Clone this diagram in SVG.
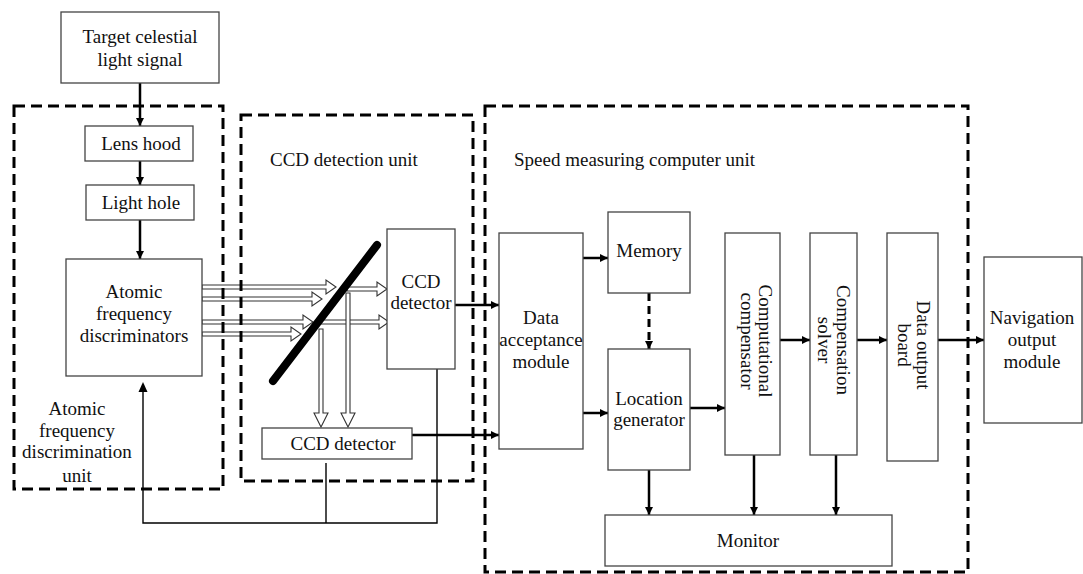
<svg xmlns="http://www.w3.org/2000/svg" width="1083" height="574" viewBox="0 0 1083 574">
  <defs>
    <marker id="ah" viewBox="0 0 10 10" refX="10" refY="5" markerWidth="8" markerHeight="8" markerUnits="userSpaceOnUse" orient="auto">
      <path d="M0,0 L10,5 L0,10 z" fill="#000"/>
    </marker>
    <style>
      .box { fill: #fff; stroke: #444; stroke-width: 1.3; }
      .unit { fill: none; stroke: #000; stroke-width: 3; stroke-dasharray: 11 6; }
      .t { font-family: "Liberation Serif", "Times New Roman", serif; font-size: 19px; fill: #111; }
      .c { text-anchor: middle; }
      .flow { fill: none; stroke: #000; stroke-width: 2.5; marker-end: url(#ah); }
      .thin { fill: none; stroke: #000; stroke-width: 1.4; }
      .dash { fill: none; stroke: #000; stroke-width: 3; stroke-dasharray: 8 5; marker-end: url(#ah); }
      .hollow { fill: #fff; stroke: #333; stroke-width: 1.1; stroke-linejoin: miter; }
    </style>
  </defs>

  <!-- optical beam paths (hollow arrows) -->
  <g id="beams">
    <polygon class="hollow" points="202,285 326,285 326,280 336,287 326,294 326,289 202,289"/>
    <polygon class="hollow" points="202,297 312,297 312,292 322,299 312,306 312,301 202,301"/>
    <polygon class="hollow" points="202,320 303,320 303,315 313,322 303,329 303,324 202,324"/>
    <polygon class="hollow" points="202,332 291,332 291,327 301,334 291,341 291,336 202,336"/>
    <polygon class="hollow" points="347,287 377,287 377,282 387,289 377,296 377,291 347,291"/>
    <polygon class="hollow" points="320,320 379,320 379,315 389,322 379,329 379,324 320,324"/>
    <polygon class="hollow" points="319,329 323,329 323,413 328,413 321,427 314,413 319,413"/>
    <polygon class="hollow" points="346,293 350,293 350,413 355,413 348,427 341,413 346,413"/>
  </g>

  <!-- beam splitter -->
  <g id="splitter">
    <line x1="377" y1="245" x2="273" y2="381" stroke="#000" stroke-width="8" stroke-linecap="round"/>
  </g>

  <!-- unit frames -->
  <g id="unit-afd">
    <rect class="unit" x="14" y="106" width="209" height="383"/>
    <text class="t c" x="77" y="415">Atomic</text>
    <text class="t c" x="77" y="437">frequency</text>
    <text class="t c" x="77" y="458">discrimination</text>
    <text class="t c" x="77" y="482">unit</text>
  </g>
  <g id="unit-ccd">
    <rect class="unit" x="241" y="115" width="232" height="366"/>
    <text class="t" x="270" y="166">CCD detection unit</text>
  </g>
  <g id="unit-speed">
    <rect class="unit" x="485" y="106" width="483" height="466"/>
    <text class="t" x="514" y="166">Speed measuring computer unit</text>
  </g>

  <!-- connectors -->
  <g id="connectors">
    <line class="flow" x1="140" y1="83" x2="140" y2="126"/>
    <line class="flow" x1="140" y1="161" x2="140" y2="185"/>
    <line class="flow" x1="140" y1="220" x2="140" y2="259"/>
    <line class="flow" x1="455" y1="305" x2="499" y2="305"/>
    <line class="flow" x1="412" y1="435" x2="499" y2="435"/>
    <line class="flow" x1="583" y1="258" x2="608" y2="258"/>
    <line class="flow" x1="583" y1="413" x2="608" y2="413"/>
    <line class="dash" x1="649" y1="293" x2="649" y2="349"/>
    <line class="flow" x1="690" y1="408" x2="725" y2="408"/>
    <line class="flow" x1="780" y1="340" x2="810" y2="340"/>
    <line class="flow" x1="857" y1="340" x2="887" y2="340"/>
    <line class="flow" x1="938" y1="340" x2="984" y2="340"/>
    <line class="flow" x1="649" y1="470" x2="649" y2="515"/>
    <line class="flow" x1="754" y1="455" x2="754" y2="515"/>
    <line class="flow" x1="836" y1="455" x2="836" y2="515"/>
    <!-- feedback to the discriminators -->
    <polyline class="thin" points="437,369 437,523 143,523 143,390"/>
    <path d="M143,382 L147.5,392 L138.5,392 z" fill="#000"/>
    <line class="thin" x1="326" y1="463" x2="326" y2="523"/>
  </g>

  <!-- nodes -->
  <g id="target">
    <rect class="box" x="61" y="12" width="158" height="71"/>
    <text class="t c" x="140" y="43">Target celestial</text>
    <text class="t c" x="140" y="66">light signal</text>
  </g>
  <g id="lens-hood">
    <rect class="box" x="85" y="126" width="108" height="35"/>
    <text class="t c" x="141" y="150">Lens hood</text>
  </g>
  <g id="light-hole">
    <rect class="box" x="86" y="185" width="108" height="35"/>
    <text class="t c" x="141" y="209">Light hole</text>
  </g>
  <g id="discriminators">
    <rect class="box" x="66" y="259" width="136" height="117"/>
    <text class="t c" x="134" y="298">Atomic</text>
    <text class="t c" x="134" y="320">frequency</text>
    <text class="t c" x="134" y="342">discriminators</text>
  </g>
  <g id="ccd-detector-a">
    <rect class="box" x="387" y="229" width="68" height="140"/>
    <text class="t c" x="421" y="288">CCD</text>
    <text class="t c" x="421" y="309">detector</text>
  </g>
  <g id="ccd-detector-b">
    <rect class="box" x="262" y="428" width="150" height="31"/>
    <text class="t c" x="343" y="450">CCD detector</text>
  </g>
  <g id="data-acceptance">
    <rect class="box" x="499" y="233" width="84" height="216"/>
    <text class="t c" x="541" y="324">Data</text>
    <text class="t c" x="541" y="346">acceptance</text>
    <text class="t c" x="541" y="368">module</text>
  </g>
  <g id="memory">
    <rect class="box" x="608" y="212" width="82" height="81"/>
    <text class="t c" x="649" y="257">Memory</text>
  </g>
  <g id="location-generator">
    <rect class="box" x="608" y="349" width="82" height="121"/>
    <text class="t c" x="649" y="405">Location</text>
    <text class="t c" x="649" y="426">generator</text>
  </g>
  <g id="computational-compensator">
    <rect class="box" x="725" y="233" width="55" height="222"/>
    <text class="t c" transform="translate(756,341) rotate(90)"><tspan x="0" y="-3">Computational</tspan><tspan x="0" y="15">compensator</tspan></text>
  </g>
  <g id="compensation-solver">
    <rect class="box" x="810" y="233" width="47" height="222"/>
    <text class="t c" transform="translate(833,340) rotate(90)"><tspan x="0" y="-4">Compensation</tspan><tspan x="0" y="15.5">solver</tspan></text>
  </g>
  <g id="data-output-board">
    <rect class="box" x="887" y="233" width="51" height="228"/>
    <text class="t c" transform="translate(913,345) rotate(90)"><tspan x="0" y="-4">Data output</tspan><tspan x="0" y="15.5">board</tspan></text>
  </g>
  <g id="monitor">
    <rect class="box" x="605" y="515" width="287" height="51"/>
    <text class="t c" x="748" y="547">Monitor</text>
  </g>
  <g id="navigation-output">
    <rect class="box" x="984" y="257" width="98" height="166"/>
    <text class="t c" x="1032" y="324">Navigation</text>
    <text class="t c" x="1032" y="346">output</text>
    <text class="t c" x="1032" y="368">module</text>
  </g>
</svg>
